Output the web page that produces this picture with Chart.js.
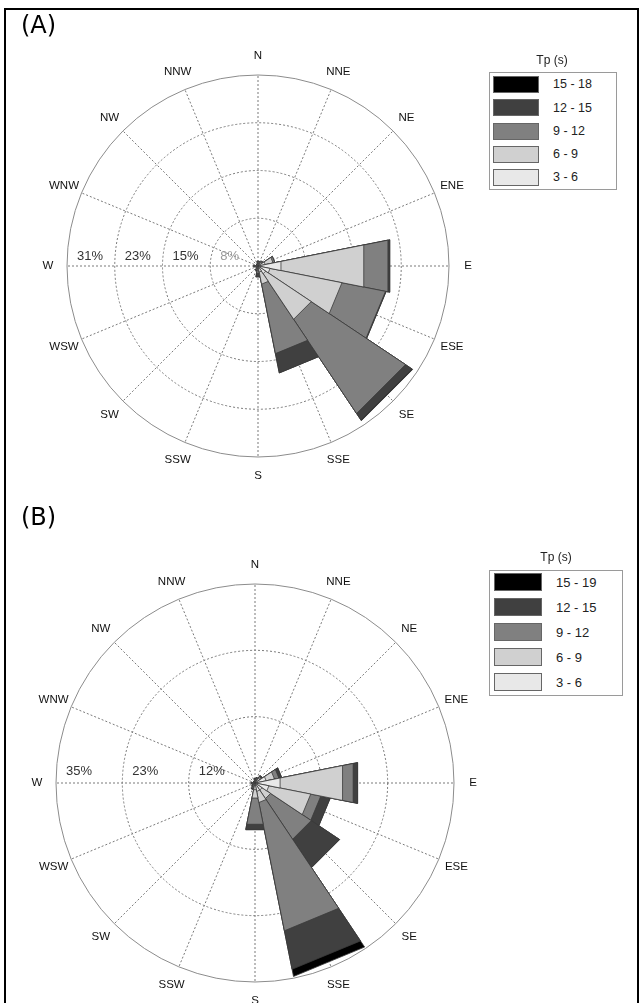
<!DOCTYPE html>
<html>
<head>
<meta charset="utf-8">
<script src="https://cdn.jsdelivr.net/npm/chart.js@4.4.1/dist/chart.umd.min.js"></script>
<style>
html,body{margin:0;padding:0;background:#fff;}
#page{position:relative;width:641px;height:1003px;overflow:hidden;background:#fff;font-family:"Liberation Sans",Arial,sans-serif;color:#222;}
#frame{position:absolute;left:4px;top:8px;width:635px;height:1020px;border:2px solid #000;box-sizing:border-box;pointer-events:none;}
canvas{position:absolute;left:0;}
.tag{position:absolute;left:21px;font-family:"DejaVu Sans",sans-serif;font-size:24px;line-height:1;color:#000;}
.ltitle{position:absolute;text-align:center;font-size:12px;line-height:14px;color:#222;}
.lbox{position:absolute;border:1px solid #9a9a9a;box-sizing:border-box;background:#fff;}
.sw{position:absolute;border:1px solid #666;box-sizing:border-box;}
.lt{position:absolute;line-height:1;color:#222;}
</style>
</head>
<body>
<div id="page">
  <canvas id="cA" width="641" height="500" style="top:0px"></canvas>
  <canvas id="cB" width="641" height="528" style="top:475px"></canvas>
  <div class="tag" style="top:13px">(A)</div>
  <div class="tag" style="top:505px">(B)</div>
  <div id="legA"></div>
  <div id="legB"></div>
  <div id="frame"></div>
</div>
<script>
// ---------- data ----------
const directions = ['N','NNE','NE','ENE','E','ESE','SE','SSE','S','SSW','SW','WSW','W','WNW','NW','NNW'];

// Panel A: frequency (%) per Tp bin and direction
const A_tp3_6   = [0.3,0.3,0.4,1.2,3.8,2.0,1.5,1.0,0.3,0.2,0.2,0.1,0.2,0.1,0.1,0.2];
const A_tp6_9   = [0.2,0.3,0.4,1.3,13.7,11.9,8.9,2.0,0.3,0.2,0.1,0.1,0.2,0.1,0.1,0.1];
const A_tp9_12  = [0.2,0.1,0.2,0.3,4.0,7.2,18.4,11.5,0.6,0.3,0.1,0.1,0.2,0.1,0.1,0.1];
const A_tp12_15 = [0.1,0,0,0,0.3,0.1,1.3,3.2,0.6,0.1,0,0,0.1,0,0,0];
const A_tp15_18 = [0,0,0,0,0,0,0.1,0,0,0,0,0,0,0,0,0];
const A_binLabels = ['3 - 6','6 - 9','9 - 12','12 - 15','15 - 18'];
const A_tickValues = [0,7.75,15.5,23.25,31];
const A_tickLabels = ['','8%','15%','23%','31%'];

// Panel B
const B_tp3_6   = [0.3,0.3,0.5,2.0,4.5,2.5,1.5,1.5,1.2,0.3,0.2,0.1,0.2,0.1,0.1,0.2];
const B_tp6_9   = [0.2,0.3,0.5,1.5,11.2,7.5,1.8,2.0,1.5,0.3,0.2,0.1,0.2,0.1,0.1,0.1];
const B_tp9_12  = [0.2,0.3,0.4,0.8,1.9,1.8,8.6,23.0,4.7,0.4,0.2,0.1,0.2,0.1,0.1,0.1];
const B_tp12_15 = [0.1,0.1,0.2,0.5,0.8,1.7,6.0,6.9,0.9,0.2,0.1,0.1,0.1,0,0,0];
const B_tp15_19 = [0,0,0,0,0,0,0,1.3,0.1,0,0,0,0,0,0,0];
const B_binLabels = ['3 - 6','6 - 9','9 - 12','12 - 15','15 - 19'];
const B_tickValues = [0,11.6667,23.3333,35];
const B_tickLabels = ['','12%','23%','35%'];

const binColors = ['#e8e8e8','#d0d0d0','#808080','#404040','#000000'];
const legendTitle = 'Tp (s)';

// ---------- helpers ----------
const HALF = 360 / directions.length / 2;

function buildDatasets(bins){
  const out = [];
  let cum = directions.map(() => 0);
  bins.forEach((b, k) => {
    cum = cum.map((c, i) => c + b[i]);
    out.push({
      label: 'bin' + k,
      data: [0].concat(cum),           // leading zero-value slot rotates wedges to be centred
      backgroundColor: binColors[k],
      borderColor: '#3a3a3a',
      borderWidth: c => c.dataIndex === 0 ? 0 : 0.8,
      angle: c => c.dataIndex === 0 ? 360 - HALF : 2 * HALF,
      circular: false
    });
  });
  return out;
}

function labelPlugin(tickValues, tickLabels, tickColors, gap, rise){
  return {
    id: 'roseLabels',
    afterDraw(chart){
      const r = chart.scales.r, ctx = chart.ctx;
      ctx.save();
      ctx.font = '11.5px "Liberation Sans", Arial, sans-serif';
      ctx.fillStyle = '#111';
      ctx.textAlign = 'center';
      ctx.textBaseline = 'middle';
      directions.forEach((d, i) => {
        const p = r.getPointPosition(i, r.drawingArea + gap);
        ctx.fillText(d, p.x, p.y);
      });
      ctx.font = '13px "Liberation Sans", Arial, sans-serif';
      ctx.textAlign = 'left';
      tickValues.forEach((v, i) => {
        if (!tickLabels[i]) return;
        const d = r.getDistanceFromCenterForValue(v);
        ctx.fillStyle = tickColors[i];
        ctx.fillText(tickLabels[i], r.xCenter - d + 10, r.yCenter - rise);
      });
      ctx.restore();
    }
  };
}

function makeRose(id, bins, tickValues, tickLabels, tickColors, pad, rise){
  const maxV = tickValues[tickValues.length - 1];
  return new Chart(document.getElementById(id), {
    type: 'polarArea',
    data: { labels: directions, datasets: buildDatasets(bins) },
    options: {
      responsive: false,
      animation: false,
      events: [],
      layout: { padding: pad },
      plugins: { legend: { display: false }, tooltip: { enabled: false } },
      scales: {
        r: {
          min: 0, max: maxV, startAngle: 0,
          afterBuildTicks: s => { s.ticks = tickValues.map(v => ({ value: v })); },
          ticks: { display: false },
          pointLabels: { display: false },
          grid: { circular: true, color: c => (c.tick && c.tick.value >= maxV - 0.01) ? '#8c8c8c' : '#7a7a7a', lineWidth: 1 },
          border: { dash: c => (c.tick && c.tick.value >= maxV - 0.01) ? [] : [2, 2] },
          angleLines: { display: true, color: '#7a7a7a', lineWidth: 1, borderDash: [2, 2] }
        }
      }
    },
    plugins: [labelPlugin(tickValues, tickLabels, tickColors, 19, rise)]
  });
}

makeRose('cA', [A_tp3_6, A_tp6_9, A_tp9_12, A_tp12_15, A_tp15_18], A_tickValues, A_tickLabels,
  ['#333','#999','#333','#333','#333'], {left:67, top:75, right:192, bottom:43}, 10);
makeRose('cB', [B_tp3_6, B_tp6_9, B_tp9_12, B_tp12_15, B_tp15_19], B_tickValues, B_tickLabels,
  ['#333','#333','#333','#333'], {left:56, top:109, right:187, bottom:21}, 12);

// ---------- legends ----------
function buildLegend(el, labels, g){
  let html = '<div class="ltitle" style="left:' + (g.cx - 50) + 'px;width:100px;top:' + (g.titleY - 7) + 'px">' + legendTitle + '</div>';
  html += '<div class="lbox" style="left:' + g.left + 'px;top:' + g.top + 'px;width:' + g.w + 'px;height:' + g.h + 'px"></div>';
  for (let k = labels.length - 1, row = 0; k >= 0; k--, row++) {
    const y = g.rowTop + row * g.step;
    html += '<div class="sw" style="left:' + g.swL + 'px;top:' + y + 'px;width:' + g.swW + 'px;height:' + g.swH + 'px;background:' + binColors[k] + '"></div>';
    html += '<div class="lt" style="left:' + g.txtL + 'px;top:' + (y + g.swH / 2 - g.fs / 2) + 'px;font-size:' + g.fs + 'px">' + labels[k] + '</div>';
  }
  el.innerHTML = html;
}
buildLegend(document.getElementById('legA'), A_binLabels,
  {cx:552, titleY:60, left:489, top:72, w:128, h:118, rowTop:76, step:23.3, swL:493, swW:46, swH:17, txtL:553, fs:12.5});
buildLegend(document.getElementById('legB'), B_binLabels,
  {cx:556, titleY:557, left:489, top:570, w:134, h:126, rowTop:573, step:25, swL:494, swW:48, swH:18, txtL:556, fs:13});
</script>
</body>
</html>
